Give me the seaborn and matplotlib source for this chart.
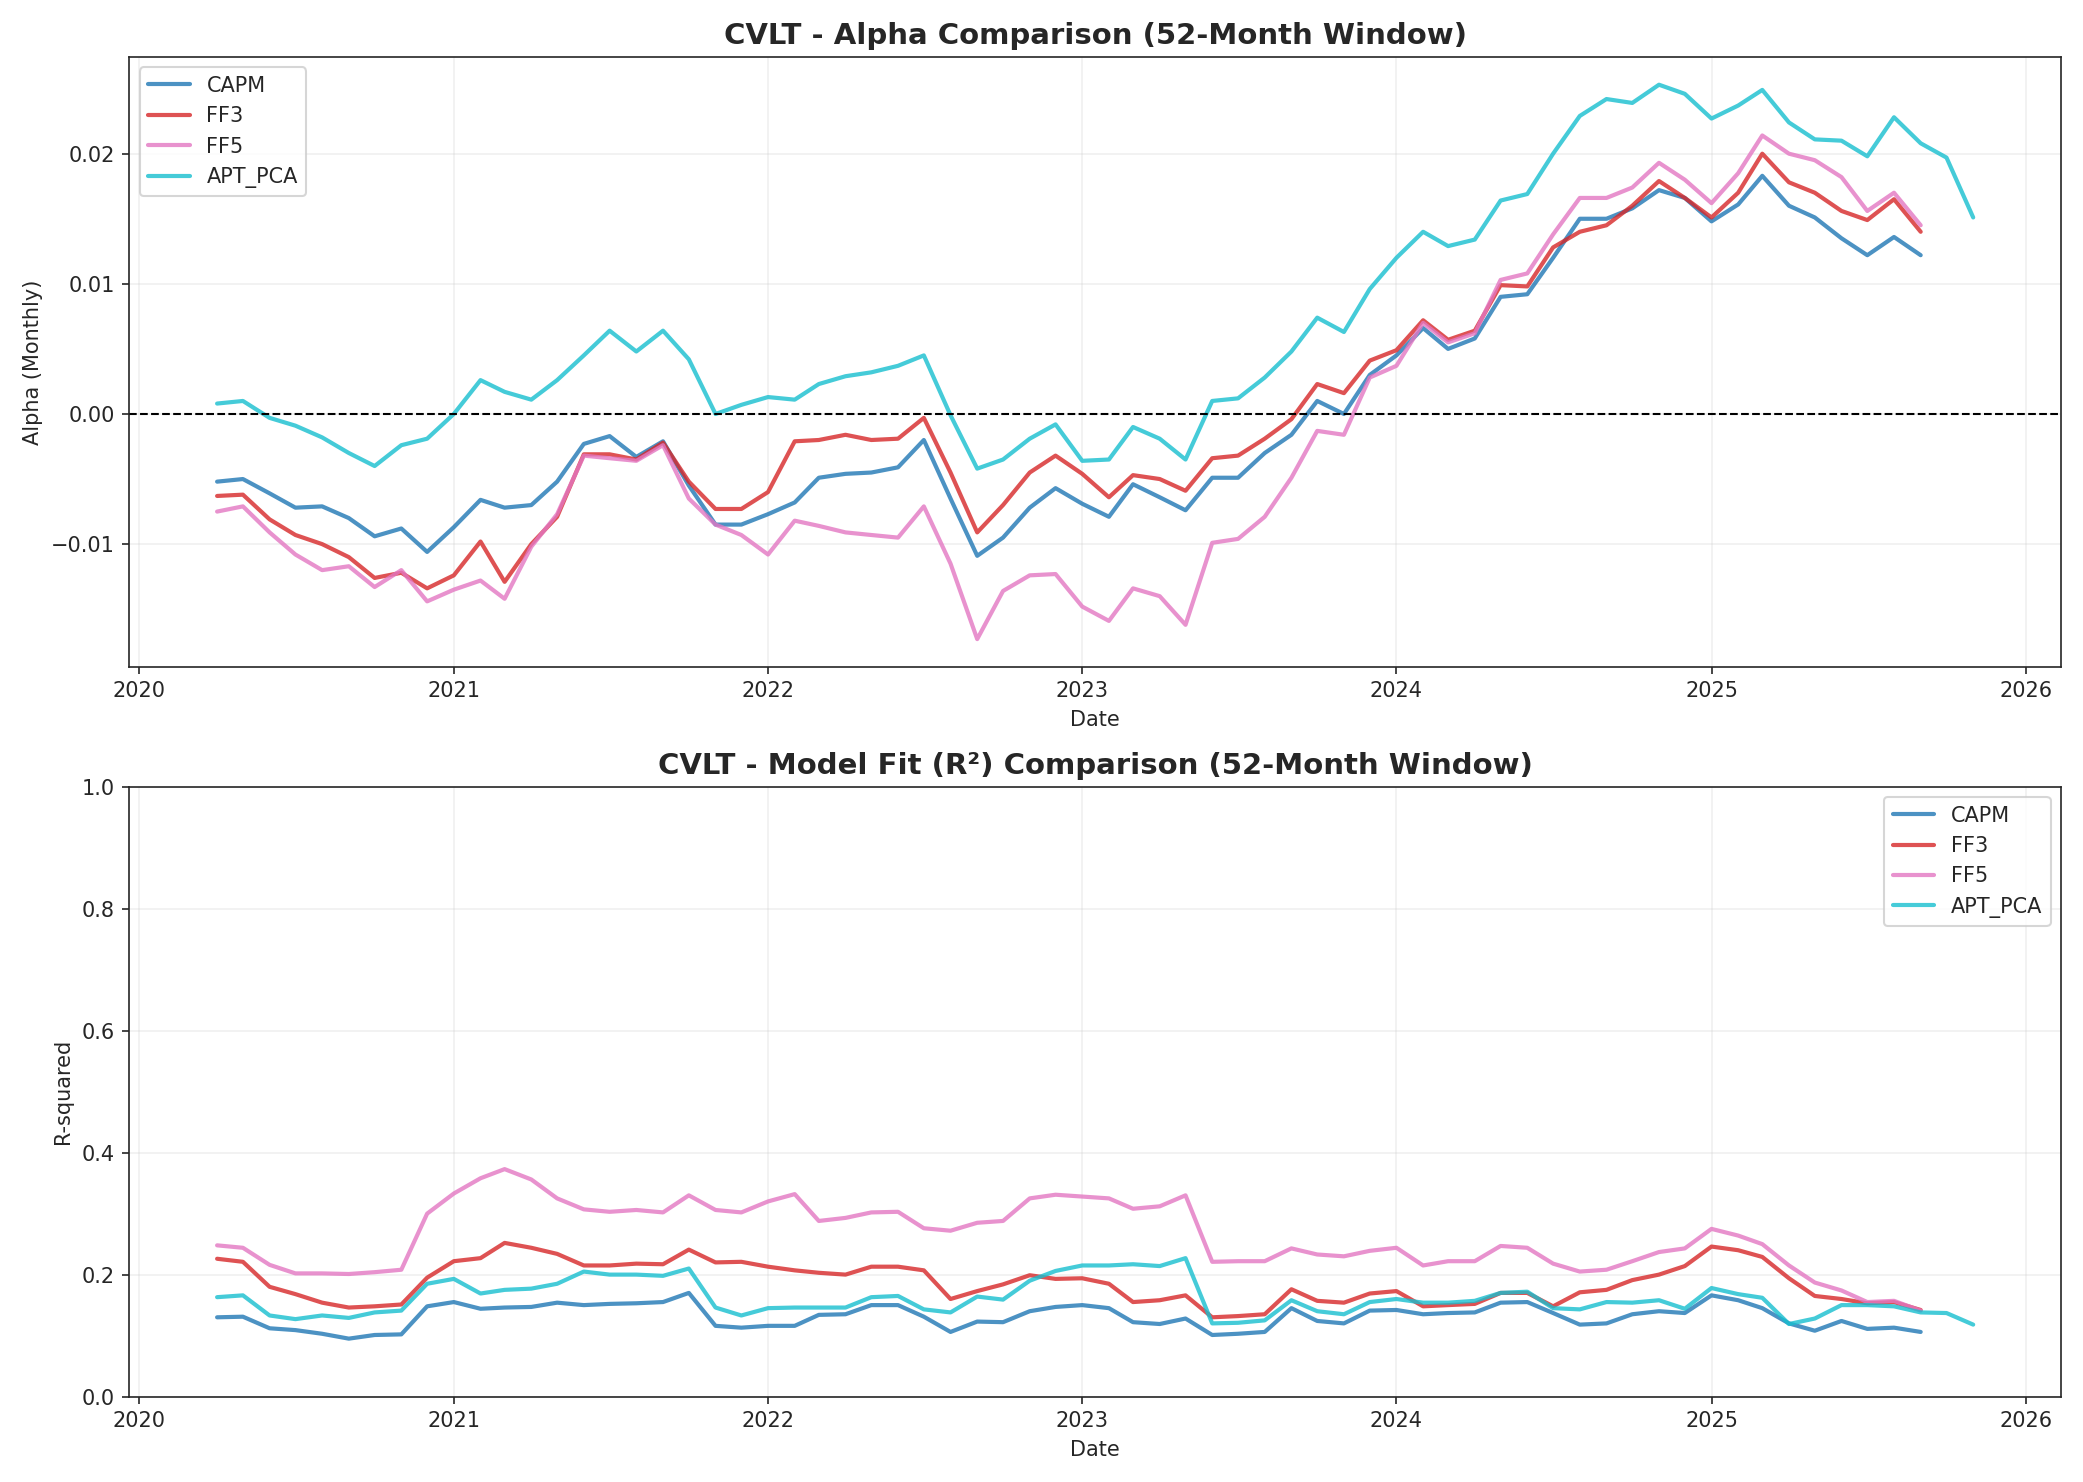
import numpy as np
import pandas as pd
import matplotlib
matplotlib.use("Agg")
import matplotlib.pyplot as plt
import seaborn as sns

dates = pd.date_range("2020-04-01", periods=66, freq="MS")
dates_apt = pd.date_range("2020-04-01", periods=68, freq="MS")

alpha_capm = [-0.0052, -0.0050, -0.0061, -0.0072, -0.0071, -0.0080, -0.0094, -0.0088, -0.0106, -0.0087,
              -0.0066, -0.0072, -0.0070, -0.0052, -0.0023, -0.0017, -0.0033, -0.0021, -0.0055, -0.0085,
              -0.0085, -0.0077, -0.0068, -0.0049, -0.0046, -0.0045, -0.0041, -0.0020, -0.0065, -0.0109,
              -0.0095, -0.0072, -0.0057, -0.0069, -0.0079, -0.0054, -0.0064, -0.0074, -0.0049, -0.0049,
              -0.0030, -0.0016, 0.0010, 0.0000, 0.0030, 0.0045, 0.0066, 0.0050, 0.0058, 0.0090,
              0.0092, 0.0120, 0.0150, 0.0150, 0.0158, 0.0172, 0.0166, 0.0148, 0.0161, 0.0183,
              0.0160, 0.0151, 0.0135, 0.0122, 0.0136, 0.0122]
alpha_ff3 = [-0.0063, -0.0062, -0.0081, -0.0093, -0.0100, -0.0110, -0.0126, -0.0122, -0.0134, -0.0124,
             -0.0098, -0.0129, -0.0100, -0.0079, -0.0031, -0.0031, -0.0035, -0.0022, -0.0052, -0.0073,
             -0.0073, -0.0060, -0.0021, -0.0020, -0.0016, -0.0020, -0.0019, -0.0003, -0.0045, -0.0091,
             -0.0070, -0.0045, -0.0032, -0.0046, -0.0064, -0.0047, -0.0050, -0.0059, -0.0034, -0.0032,
             -0.0019, -0.0004, 0.0023, 0.0016, 0.0041, 0.0049, 0.0072, 0.0057, 0.0064, 0.0099,
             0.0098, 0.0128, 0.0140, 0.0145, 0.0160, 0.0179, 0.0166, 0.0151, 0.0170, 0.0200,
             0.0178, 0.0170, 0.0156, 0.0149, 0.0165, 0.0140]
alpha_ff5 = [-0.0075, -0.0071, -0.0091, -0.0108, -0.0120, -0.0117, -0.0133, -0.0120, -0.0144, -0.0135,
             -0.0128, -0.0142, -0.0102, -0.0077, -0.0032, -0.0034, -0.0036, -0.0024, -0.0065, -0.0085,
             -0.0093, -0.0108, -0.0082, -0.0086, -0.0091, -0.0093, -0.0095, -0.0071, -0.0115, -0.0173,
             -0.0136, -0.0124, -0.0123, -0.0148, -0.0159, -0.0134, -0.0140, -0.0162, -0.0099, -0.0096,
             -0.0079, -0.0049, -0.0013, -0.0016, 0.0028, 0.0037, 0.0070, 0.0055, 0.0062, 0.0103,
             0.0108, 0.0138, 0.0166, 0.0166, 0.0174, 0.0193, 0.0180, 0.0162, 0.0185, 0.0214,
             0.0200, 0.0195, 0.0182, 0.0156, 0.0170, 0.0145]
alpha_apt = [0.0008, 0.0010, -0.0003, -0.0009, -0.0018, -0.0030, -0.0040, -0.0024, -0.0019, 0.0000,
             0.0026, 0.0017, 0.0011, 0.0026, 0.0045, 0.0064, 0.0048, 0.0064, 0.0042, 0.0000,
             0.0007, 0.0013, 0.0011, 0.0023, 0.0029, 0.0032, 0.0037, 0.0045, -0.0001, -0.0042,
             -0.0035, -0.0019, -0.0008, -0.0036, -0.0035, -0.0010, -0.0019, -0.0035, 0.0010, 0.0012,
             0.0028, 0.0048, 0.0074, 0.0063, 0.0096, 0.0120, 0.0140, 0.0129, 0.0134, 0.0164,
             0.0169, 0.0200, 0.0229, 0.0242, 0.0239, 0.0253, 0.0246, 0.0227, 0.0237, 0.0249,
             0.0224, 0.0211, 0.0210, 0.0198, 0.0228, 0.0208, 0.0197, 0.0151]

r2_capm = [0.130, 0.131, 0.112, 0.109, 0.103, 0.095, 0.101, 0.102, 0.148, 0.155, 0.144, 0.146, 0.147,
           0.154, 0.150, 0.152, 0.153, 0.155, 0.170, 0.116, 0.113, 0.116, 0.116, 0.134, 0.135, 0.150,
           0.150, 0.131, 0.106, 0.123, 0.122, 0.140, 0.147, 0.150, 0.145, 0.122, 0.119, 0.128, 0.101,
           0.103, 0.106, 0.145, 0.124, 0.120, 0.141, 0.142, 0.135, 0.137, 0.138, 0.154, 0.155, 0.137,
           0.118, 0.120, 0.135, 0.140, 0.137, 0.166, 0.158, 0.145, 0.120, 0.108, 0.124, 0.111, 0.113, 0.106]
r2_ff3 = [0.226, 0.221, 0.180, 0.168, 0.154, 0.146, 0.148, 0.151, 0.195, 0.222, 0.227, 0.252, 0.244,
          0.234, 0.215, 0.215, 0.218, 0.217, 0.241, 0.220, 0.221, 0.213, 0.207, 0.203, 0.200, 0.213,
          0.213, 0.207, 0.160, 0.173, 0.184, 0.199, 0.193, 0.194, 0.185, 0.155, 0.158, 0.166, 0.130,
          0.132, 0.135, 0.176, 0.157, 0.154, 0.169, 0.173, 0.148, 0.150, 0.152, 0.170, 0.170, 0.148,
          0.171, 0.175, 0.191, 0.200, 0.214, 0.246, 0.240, 0.229, 0.194, 0.165, 0.160, 0.153, 0.155, 0.142]
r2_ff5 = [0.248, 0.244, 0.216, 0.202, 0.202, 0.201, 0.204, 0.208, 0.300, 0.333, 0.358, 0.373, 0.356,
          0.325, 0.307, 0.303, 0.306, 0.302, 0.330, 0.306, 0.302, 0.320, 0.332, 0.288, 0.293, 0.302,
          0.303, 0.276, 0.272, 0.285, 0.288, 0.325, 0.331, 0.328, 0.325, 0.308, 0.312, 0.330, 0.221,
          0.222, 0.222, 0.243, 0.233, 0.230, 0.239, 0.244, 0.215, 0.222, 0.222, 0.247, 0.244, 0.218,
          0.205, 0.208, 0.222, 0.237, 0.243, 0.275, 0.264, 0.250, 0.215, 0.187, 0.174, 0.155, 0.157, 0.141]
r2_apt = [0.163, 0.166, 0.133, 0.127, 0.133, 0.129, 0.138, 0.141, 0.185, 0.193, 0.169, 0.175, 0.177,
          0.185, 0.205, 0.200, 0.200, 0.198, 0.210, 0.146, 0.133, 0.145, 0.146, 0.146, 0.146, 0.163,
          0.165, 0.143, 0.138, 0.164, 0.159, 0.190, 0.206, 0.215, 0.215, 0.217, 0.214, 0.227, 0.120,
          0.121, 0.125, 0.158, 0.140, 0.135, 0.155, 0.160, 0.154, 0.154, 0.157, 0.170, 0.172, 0.145,
          0.143, 0.155, 0.154, 0.158, 0.144, 0.178, 0.168, 0.162, 0.119, 0.128, 0.150, 0.150, 0.148,
          0.138, 0.137, 0.118]

colors = {"CAPM": "#1f77b4", "FF3": "#d62728", "FF5": "#e377c2", "APT_PCA": "#17becf"}

sns.set_style("ticks")
plt.rcParams["font.family"] = "DejaVu Sans"

f, axs = plt.subplots(2, 1, figsize=(13.89, 9.88), dpi=150)

series_top = [("CAPM", dates, alpha_capm), ("FF3", dates, alpha_ff3),
              ("FF5", dates, alpha_ff5), ("APT_PCA", dates_apt, alpha_apt)]
series_bot = [("CAPM", dates, r2_capm), ("FF3", dates, r2_ff3),
              ("FF5", dates, r2_ff5), ("APT_PCA", dates_apt, r2_apt)]

for ax, series in zip(axs, [series_top, series_bot]):
    for name, d, v in series:
        sns.lineplot(x=d, y=v, ax=ax, label=name, color=colors[name], linewidth=2, alpha=0.8)
    ax.grid(True, alpha=0.3)
    ax.set_xlabel("Date")

axs[0].axhline(0, color="black", linestyle="--", linewidth=1)
axs[0].set_title("CVLT - Alpha Comparison (52-Month Window)", fontsize=14, fontweight="bold")
axs[0].set_ylabel("Alpha (Monthly)")
axs[0].legend(loc="upper left")

axs[1].set_title("CVLT - Model Fit (R²) Comparison (52-Month Window)", fontsize=14, fontweight="bold")
axs[1].set_ylabel("R-squared")
axs[1].set_ylim(0, 1)
axs[1].legend(loc="upper right")

plt.tight_layout()
plt.savefig("out.png", dpi=150)
